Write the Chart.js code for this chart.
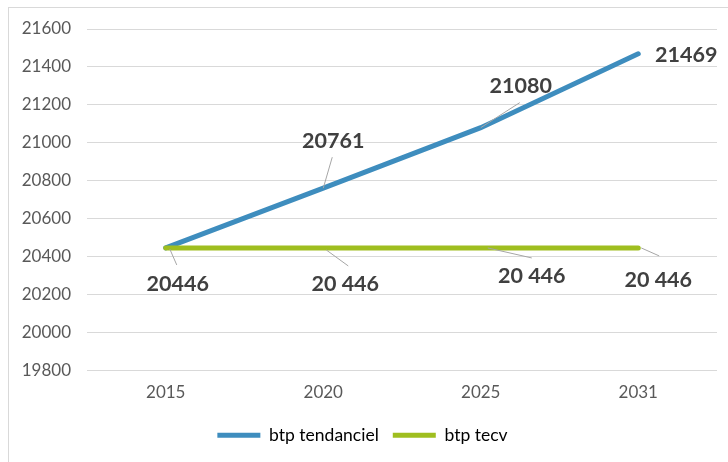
<!DOCTYPE html>
<html>
<head>
<meta charset="utf-8">
<script src="https://cdn.jsdelivr.net/npm/chart.js@4"></script>
<style>
  html, body { margin: 0; padding: 0; background: #fff; }
  #wrap { width: 728px; height: 462px; position: relative; }
</style>
</head>
<body>
<div id="wrap"><canvas id="btpChart" width="728" height="462"></canvas></div>
<script>
// data
const years = ['2015', '2020', '2025', '2031'];
const tendanciel = [20446, 20761, 21080, 21469];
const tecv = [20446, 20446, 20446, 20446];
const tendancielLabels = ['20446', '20761', '21080', '21469'];
const tecvLabels = ['', '20 446', '20 446', '20 446'];
const yTicks = [19800, 20000, 20200, 20400, 20600, 20800, 21000, 21200, 21400, 21600];

// label placement relative to each point: [label dx, dy, leader start dx, dy, leader end dx, dy]
const tendancielPlace = [
  [12, 36, 4, 1, 11, 17],
  [10, -47, 0, 0, 9, -31],
  [40, -42, 0, 0, 39, -25],
  [48, 1, null]
];
const tecvPlace = [
  null,
  [22, 36, 3, 2, 25, 18],
  [51, 28, 7, 0, 51, 10],
  [20, 32, 3, 0, 21, 8]
];

const BLUE = '#3E8DBE';
const GREEN = '#9FBE1F';

const frame = {
  id: 'frame',
  beforeDraw(chart) {
    const ctx = chart.ctx;
    ctx.save();
    ctx.strokeStyle = '#d9d9d9';
    ctx.lineWidth = 1;
    ctx.strokeRect(8.5, 7.5, 760, 500);
    ctx.restore();
  }
};

const dataLabels = {
  id: 'dataLabels',
  afterDatasetsDraw(chart) {
    const ctx = chart.ctx;
    const sets = [[tendancielLabels, tendancielPlace], [tecvLabels, tecvPlace]];
    ctx.save();
    ctx.font = 'bold 21.5px Lato';
    ctx.fillStyle = '#404040';
    ctx.textAlign = 'center';
    ctx.textBaseline = 'middle';
    sets.forEach(([texts, place], i) => {
      const meta = chart.getDatasetMeta(i);
      meta.data.forEach((pt, j) => {
        const p = place[j];
        if (!p || !texts[j]) return;
        if (p[2] !== null && p.length > 3) {
          ctx.strokeStyle = '#a6a6a6';
          ctx.lineWidth = 1;
          ctx.beginPath();
          ctx.moveTo(pt.x + p[2], pt.y + p[3]);
          ctx.lineTo(pt.x + p[4], pt.y + p[5]);
          ctx.stroke();
        }
        ctx.fillText(texts[j], pt.x + p[0], pt.y + p[1]);
      });
    });
    ctx.restore();
  }
};

const ctx = document.getElementById('btpChart').getContext('2d');
new Chart(ctx, {
  type: 'line',
  data: {
    labels: years,
    datasets: [
      {
        label: 'btp tendanciel',
        data: tendanciel,
        borderColor: BLUE,
        backgroundColor: BLUE,
        borderWidth: 5,
        borderCapStyle: 'round',
        pointRadius: 0,
        tension: 0,
        order: 1
      },
      {
        label: 'btp tecv',
        data: tecv,
        borderColor: GREEN,
        backgroundColor: GREEN,
        borderWidth: 5,
        borderCapStyle: 'round',
        pointRadius: 0,
        tension: 0,
        order: 0
      }
    ]
  },
  options: {
    responsive: false,
    animation: false,
    layout: { padding: { left: 8, right: 11, top: 29, bottom: 8 } },
    scales: {
      x: {
        offset: true,
        grid: { display: false, drawTicks: false },
        border: { display: false },
        ticks: { color: '#595959', font: { family: 'Lato', size: 17 }, padding: 12 },
        afterFit: (s) => { s.height = 42; }
      },
      y: {
        min: 19800,
        max: 21600,
        afterBuildTicks: (s) => { s.ticks = yTicks.map((v) => ({ value: v })); },
        grid: { color: '#d9d9d9', lineWidth: 1, drawTicks: false },
        border: { display: false },
        ticks: {
          color: '#595959',
          font: { family: 'Lato', size: 17 },
          padding: 16,
          callback: (v) => String(v)
        },
        afterFit: (s) => { s.width = 79; }
      }
    },
    plugins: {
      legend: {
        position: 'bottom',
        labels: {
          color: '#595959',
          font: { family: 'Lato', size: 17.5 },
          boxWidth: 43,
          boxHeight: 5,
          padding: 14,
          generateLabels: (chart) => chart.data.datasets.map((d, i) => ({
            text: d.label,
            fillStyle: d.borderColor,
            strokeStyle: d.borderColor,
            lineWidth: 0,
            datasetIndex: i
          }))
        }
      },
      tooltip: { enabled: false }
    }
  },
  plugins: [frame, dataLabels]
});
</script>
</body>
</html>
